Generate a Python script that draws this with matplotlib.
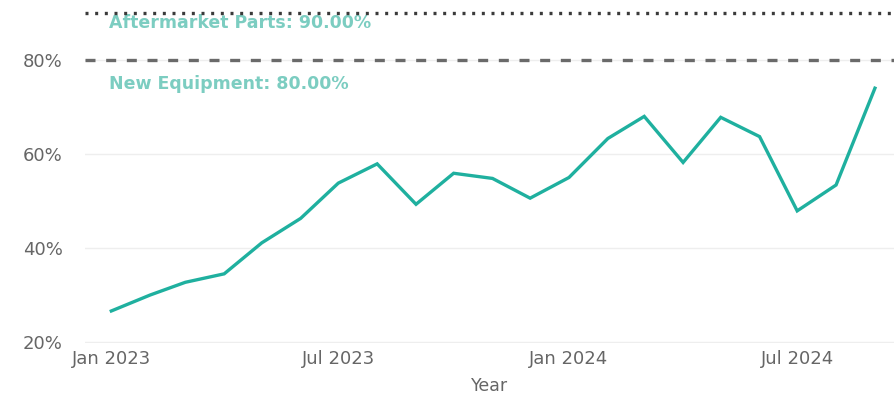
import matplotlib
matplotlib.use("Agg")
import matplotlib.pyplot as plt
import matplotlib.dates as mdates
import pandas as pd

plt.rcParams['font.family'] = ['DejaVu Sans']

months = pd.date_range("2023-01-01", "2024-09-01", freq="MS")
values = [26.6, 30.0, 32.7, 34.5, 41.1, 46.3, 53.8, 57.9, 49.3, 55.9, 54.8,
          50.6, 55.0, 63.3, 68.0, 58.2, 67.8, 63.7, 47.9, 53.4, 74.0]
ref_labels = ["Aftermarket Parts", "New Equipment"]
ref_values = [90.0, 80.0]
ref_styles = [":", "--"]
ref_colors = ["#3a3a3a", "#6a6a6a"]
y_ticks = [20, 40, 60, 80]
x_ticks = pd.to_datetime(["2023-01-01", "2023-07-01", "2024-01-01", "2024-07-01"])

fig = plt.figure(figsize=(8.95, 3.98), dpi=100)
ax = fig.add_axes([85/895, 1-343.4/398, (895-85)/895, (343.4-5)/398])

ax.plot(months, values, color="#1fb09f", linewidth=2.4, solid_joinstyle="miter")

text_offsets = [-0.5, -10.5]
for lab, v, ls, c, off in zip(ref_labels, ref_values, ref_styles, ref_colors, text_offsets):
    ax.axhline(v, color=c, linestyle=ls, linewidth=2.4,
               dashes=(3.0, 3.2) if ls == "--" else (0.9, 2.0), zorder=3)
    ax.annotate(f"{lab}: {v:.2f}%", xy=(months[0], v), xytext=(-2, off),
                textcoords="offset points", ha="left", va="top",
                color="#7ccdc1", fontsize=12.5, fontweight="bold", zorder=2)

ax.set_ylim(19.7, 91.7)
ax.set_xlim(pd.Timestamp("2022-12-11"), pd.Timestamp("2024-09-17"))
ax.set_yticks(y_ticks)
ax.set_yticklabels([f"{t}%" for t in y_ticks])
ax.set_xticks(x_ticks)
ax.xaxis.set_major_formatter(mdates.DateFormatter("%b %Y"))
ax.grid(axis="y", color="#eeeeee", linewidth=1)
ax.set_axisbelow(True)
for s in ax.spines.values():
    s.set_visible(False)
ax.tick_params(axis="both", length=0, colors="#666666", labelsize=13)
ax.tick_params(axis="y", pad=16)
ax.tick_params(axis="x", pad=5)
ax.set_xlabel("Year", color="#666666", fontsize=12.5, labelpad=6)

fig.savefig("out.png", dpi=100, facecolor="white")
